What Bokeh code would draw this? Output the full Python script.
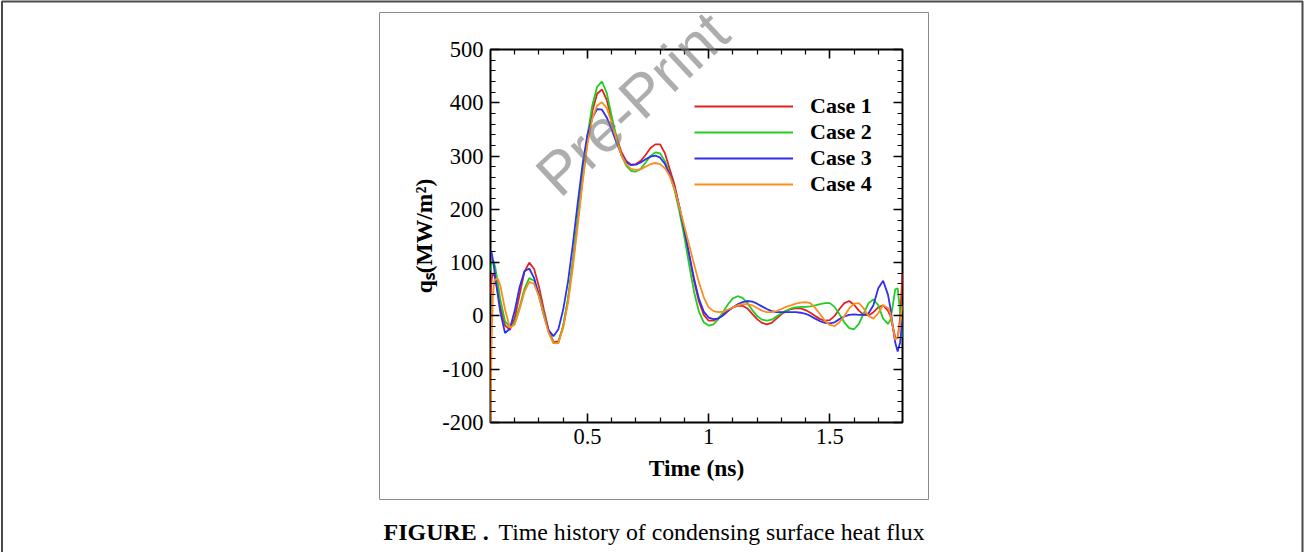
from bokeh.plotting import figure
from bokeh.models import (Range1d, FixedTicker, LinearAxis, Legend, LegendItem,
                          NumeralTickFormatter)
from bokeh.core.properties import value
from bokeh.embed import file_html
from bokeh.resources import INLINE

# ---------------- data ----------------
time_ns = [0.100, 0.105, 0.110, 0.115, 0.12, 0.13, 0.14,
           0.16, 0.18, 0.20, 0.22, 0.24, 0.26, 0.28, 0.30, 0.32, 0.34,
           0.36, 0.38, 0.40, 0.42, 0.44, 0.46, 0.48, 0.50, 0.52, 0.54,
           0.56, 0.58, 0.60, 0.62, 0.64, 0.66, 0.68, 0.70, 0.72, 0.74,
           0.76, 0.78, 0.80, 0.82, 0.84, 0.86, 0.88, 0.90, 0.92, 0.94,
           0.96, 0.98, 1.00, 1.02, 1.04, 1.06, 1.08, 1.10, 1.12, 1.14,
           1.16, 1.18, 1.20, 1.22, 1.24, 1.26, 1.28, 1.30, 1.32, 1.34,
           1.36, 1.38, 1.40, 1.42, 1.44, 1.46, 1.48, 1.50, 1.52, 1.54,
           1.56, 1.58, 1.60, 1.62, 1.64, 1.66, 1.68, 1.70, 1.72, 1.74,
           1.75, 1.76, 1.77, 1.78, 1.79, 1.80]

case1 = [40, 70, 80, 78, 70, 45, 18,
         -18, -26, -4, 40, 83, 100, 88, 55, 12, -27,
         -49, -48, -20, 31, 100, 179, 257, 328, 384, 417,
         425, 405, 368, 335, 308, 291, 284, 285, 291, 302,
         315, 322, 322, 305, 275, 245, 203, 160, 113, 65,
         27, 2, -9, -9, -4, 3, 10, 16, 19, 19,
         14, 4, -6, -13, -16, -13, -5, 3, 9, 13,
         14, 14, 11, 6, 0, -6, -9, -8, 0, 13,
         24, 28, 21, 10, 2, 1, 7, 16, 20, 10,
         0, -20, -40, -42, -5, 80]

case2 = [85, 100, 104, 100, 90, 62, 32,
         -10, -21, -12, 17, 51, 71, 66, 41, 5, -30,
         -51, -51, -18, 33, 103, 185, 265, 338, 395, 430,
         440, 418, 375, 335, 302, 282, 272, 271, 276, 288,
         300, 307, 305, 290, 265, 235, 195, 148, 95, 45,
         8, -12, -18, -16, -6, 8, 22, 33, 37, 34,
         24, 11, 0, -7, -9, -7, -1, 5, 10, 14,
         16, 17, 17, 18, 20, 22, 24, 24, 17, 3,
         -12, -23, -25, -15, 5, 24, 31, 20, -5, -15,
         -8, 20, 50, 52, 10, -40]

case3 = [122, 118, 105, 90, 70, 40, 8,
         -32, -24, 10, 54, 84, 89, 71, 38, 1, -27,
         -38, -25, 12, 65, 135, 212, 285, 340, 372, 388,
         387, 372, 350, 325, 303, 289, 283, 284, 288, 294,
         299, 301, 297, 285, 265, 240, 203, 160, 115, 70,
         32, 8, -3, -6, -5, 1, 9, 16, 22, 26,
         28, 27, 23, 18, 13, 9, 7, 7, 7, 7,
         7, 6, 4, 0, -5, -10, -13, -14, -12, -6,
         -1, 2, 3, 2, 2, 5, 20, 52, 66, 40,
         15, -20, -50, -67, -50, -5]

case4 = [-200, -40, 40, 65, 68, 70, 58,
         12, -22, -16, 12, 45, 64, 60, 36, 1, -32,
         -51, -51, -22, 25, 92, 170, 250, 322, 370, 395,
         401, 390, 363, 330, 302, 285, 276, 274, 275, 280,
         285, 287, 285, 277, 262, 238, 203, 168, 132, 97,
         63, 35, 16, 9, 7, 8, 12, 16, 20, 22,
         22, 20, 15, 10, 7, 7, 9, 13, 17, 20,
         23, 25, 26, 24, 15, 3, -9, -17, -19, -12,
         0, 14, 23, 24, 14, 0, -5, 5, 20, 15,
         5, -20, -45, -40, -15, 20]

series_names = ["Case 1", "Case 2", "Case 3", "Case 4"]
series_values = [case1, case2, case3, case4]
series_colors = ["#e02424", "#22cc22", "#2f2ff0", "#ff8c1e"]

x_major = [0.5, 1.0, 1.5]
x_minor = [0.2, 0.3, 0.4, 0.6, 0.7, 0.8, 0.9, 1.1, 1.2, 1.3, 1.4, 1.6, 1.7]
y_major = [-200, -100, 0, 100, 200, 300, 400, 500]
y_minor = [v for v in range(-200, 501, 20) if v % 100 != 0]

caption_bold = "FIGURE ."
caption_text = "Time history of condensing surface heat flux"
watermark_text = "Pre-Print"

# ---------------- layout geometry ----------------
W, H = 1304, 552
FL, FR, FT, FB = 490, 902, 49, 422
X0, X1 = 0.1, 1.8
Y0, Y1 = -200, 500

def dx(px):
    return X0 + (px - FL) / (FR - FL) * (X1 - X0)

def dy(py):
    return Y1 - (py - FT) / (FB - FT) * (Y1 - Y0)

SERIF = "Liberation Serif"

p = figure(width=W, height=H, x_range=Range1d(X0, X1), y_range=Range1d(Y0, Y1),
           output_backend="svg", toolbar_location=None,
           min_border_left=FL, min_border_right=W - FR,
           min_border_top=FT, min_border_bottom=H - FB)
p.background_fill_color = "white"
p.border_fill_color = "white"
p.xgrid.visible = False
p.ygrid.visible = False
p.outline_line_color = "black"
p.outline_line_width = 2
p.outline_line_alpha = 1.0

xt = FixedTicker(ticks=x_major, minor_ticks=x_minor)
yt = FixedTicker(ticks=y_major, minor_ticks=y_minor)

top_axis = LinearAxis()
right_axis = LinearAxis()
p.add_layout(top_axis, "above")
p.add_layout(right_axis, "right")

def style_axis(ax, ticker, show):
    ax.ticker = ticker
    ax.axis_line_color = None
    ax.major_tick_in = 9
    ax.major_tick_out = 0
    ax.minor_tick_in = 5
    ax.minor_tick_out = 0
    ax.major_tick_line_color = "black"
    ax.major_tick_line_width = 1.6
    ax.minor_tick_line_color = "black"
    ax.minor_tick_line_width = 1.2
    ax.major_label_text_font = SERIF
    ax.major_label_text_font_size = "22.5px"
    ax.major_label_text_color = "black"
    if not show:
        ax.major_label_text_font_size = "0px"
        ax.major_label_text_alpha = 0

bx = p.below[0]
ly = p.left[0]
style_axis(bx, xt, True)
style_axis(ly, yt, True)
style_axis(top_axis, xt, False)
style_axis(right_axis, yt, False)
bx.formatter = NumeralTickFormatter(format="0.[0]")
ly.formatter = NumeralTickFormatter(format="0")
bx.major_label_standoff = 6
ly.major_label_standoff = 7

bx.axis_label = "Time (ns)"
ly.axis_label = "q\u209b(MW/m\u00b2)"
for ax in (bx, ly):
    ax.axis_label_text_font = SERIF
    ax.axis_label_text_font_style = "bold"
    ax.axis_label_text_font_size = "23.5px"
    ax.axis_label_text_color = "black"
bx.axis_label_standoff = 8
ly.axis_label_standoff = 2

items = []
for name, vals, col in zip(series_names, series_values, series_colors):
    r = p.line(time_ns, vals, line_color=col, line_width=1.8)
    items.append(LegendItem(label=name, renderers=[r]))

legend = Legend(items=items, location=(694 - FL, FB - 197),
                padding=0, margin=0, spacing=0,
                glyph_width=99, glyph_height=26, label_height=26,
                label_standoff=17, border_line_color=None,
                background_fill_alpha=0,
                label_text_font=SERIF, label_text_font_style="bold",
                label_text_font_size="22px", label_text_color="black")
p.add_layout(legend)

# decorations drawn at overlay level (not clipped to the plot frame)
# inner picture box
p.line(x=[dx(379), dx(928), dx(928), dx(379), dx(379)],
       y=[dy(12), dy(12), dy(499), dy(499), dy(12)],
       line_color="#8a8a8a", line_width=1, level="overlay")
# outer page border (top, left, right)
p.line(x=[dx(1.5), dx(1.5), dx(1302), dx(1302)],
       y=[dy(620), dy(1), dy(1), dy(620)],
       line_color="#4a4a4a", line_width=2, level="overlay")

# watermark
p.text(x=[dx(632)], y=[dy(103)], text=[watermark_text], angle=43, angle_units="deg",
       text_align="center", text_baseline="middle",
       text_font=value("Liberation Sans"), text_font_size=value("60px"),
       text_color="#777777", text_alpha=0.6, level="overlay")

# caption
p.text(x=[dx(383)], y=[dy(531)], text=[caption_bold], text_align="left",
       text_baseline="middle", text_font=value(SERIF),
       text_font_style="bold", text_font_size=value("24px"), text_color="black",
       level="overlay")
p.text(x=[dx(498)], y=[dy(531)], text=[caption_text],
       text_align="left", text_baseline="middle", text_font=value(SERIF),
       text_font_size=value("23.8px"), text_color="black", level="overlay")

open("out.html", "w").write(file_html(p, INLINE))
